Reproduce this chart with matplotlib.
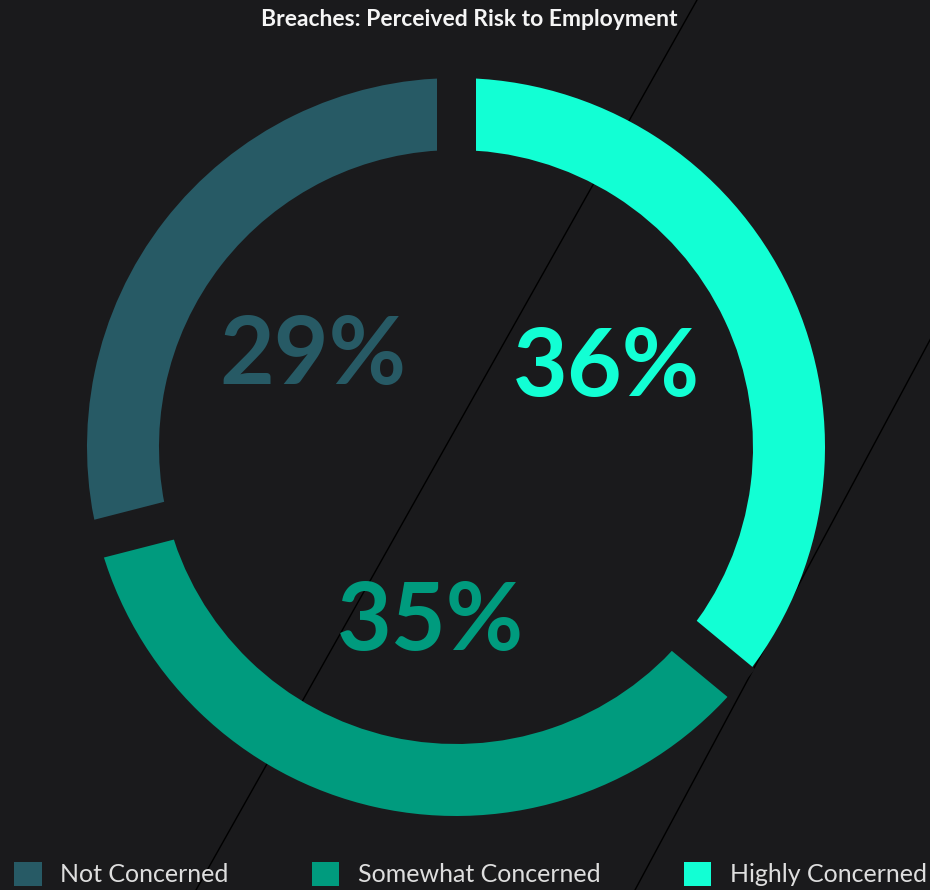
import numpy as np
import matplotlib
matplotlib.use('Agg')
import matplotlib.pyplot as plt
from matplotlib.patches import Patch

# data
labels = ['Highly Concerned', 'Somewhat Concerned', 'Not Concerned']
values = [36, 35, 29]
colors = ['#12ffd4', '#009b7e', '#275a65']
legend_order = [2, 1, 0]
title = 'Breaches: Perceived Risk to Employment'

bg = '#1a1a1c'
W, H = 930, 890
fig = plt.figure(figsize=(W / 100, H / 100), dpi=100, facecolor=bg)
ax = fig.add_axes([0, 0, 1, 1])
ax.set_facecolor(bg)

# ring geometry in pixels
cx, cy = 456, H - 447
r_out, ring = 369, 72
gap = 39

# background diagonal strokes
ax.plot([697, 196], [H, 0], color='#000000', lw=1.0, zorder=0)
ax.plot([960, 635], [H - 284, 0], color='#000000', lw=1.0, zorder=0)

wedges, _ = ax.pie(values, colors=colors, startangle=90, counterclock=False,
                   center=(cx, cy), radius=r_out, frame=True,
                   wedgeprops=dict(width=ring, linewidth=0, zorder=2))

bounds = 90 - 360 * np.cumsum([0] + values) / 100
for a in bounds[:-1]:
    t = np.deg2rad(a)
    r0, r1 = r_out - ring - 4, r_out + 3
    ax.plot([cx + r0 * np.cos(t), cx + r1 * np.cos(t)],
            [cy + r0 * np.sin(t), cy + r1 * np.sin(t)],
            color=bg, lw=gap * 0.72, solid_capstyle='butt', zorder=5)

lr = 172
for i, v in enumerate(values):
    mid = np.deg2rad((bounds[i] + bounds[i + 1]) / 2 + 4)
    ax.text(cx + lr * np.cos(mid), cy + lr * np.sin(mid) - 6, f'{v}%',
            color=colors[i], fontsize=68, fontweight='bold', fontstyle='normal',
            family='Lato', ha='center', va='center', zorder=6)

ax.set_xlim(0, W)
ax.set_ylim(0, H)
ax.set_aspect('equal')
ax.axis('off')

fig.text(469 / W, 1 - 19 / H, title, color='#f5f5f5', fontsize=16.5,
         fontweight='bold', family='Lato', ha='center', va='center')

handles = [Patch(facecolor=colors[i], edgecolor='none', label=labels[i]) for i in legend_order]
fig.legend(handles=handles, loc='lower left', ncol=3, mode='expand',
           bbox_to_anchor=(14 / W, 4 / H, (927 - 14) / W, 0.04),
           frameon=False, borderpad=0, borderaxespad=0,
           handlelength=1.1, handleheight=1.1, handletextpad=0.75,
           prop=dict(family='Lato', weight='normal', size=18),
           labelcolor='#dedede')

fig.savefig('out.png', dpi=100, facecolor=bg)
